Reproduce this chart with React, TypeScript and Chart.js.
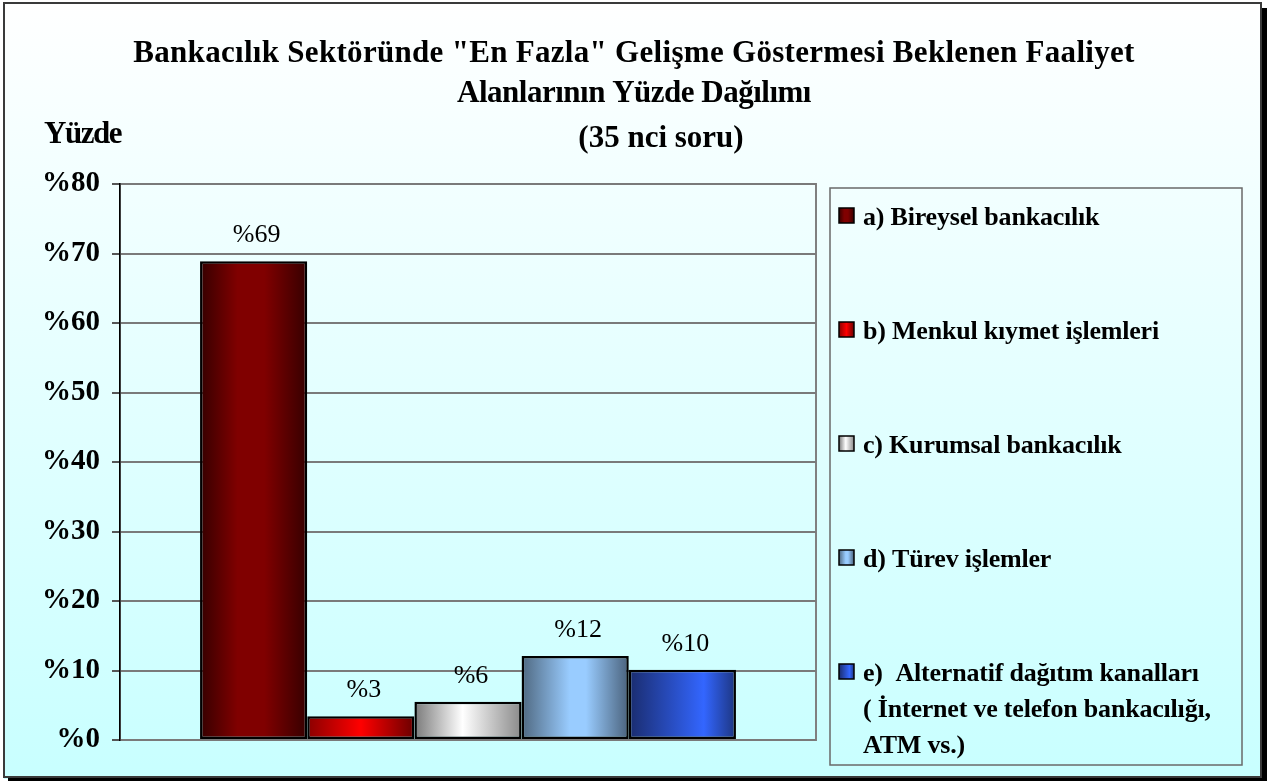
import React, { useEffect, useRef } from "react";
import { Chart, registerables } from "chart.js";

Chart.register(...registerables);

const SERIES_LABELS = [
  "a) Bireysel bankacılık",
  "b) Menkul kıymet işlemleri",
  "c) Kurumsal bankacılık",
  "d) Türev işlemler",
  "e)  Alternatif dağıtım kanalları",
];
const SERIES_EXTRA_LINES = [[], [], [], [], ["( İnternet ve telefon bankacılığı,", "ATM vs.)"]];
const VALUES = [68.9, 3.4, 5.5, 12.1, 10.1];
const VALUE_LABELS = ["%69", "%3", "%6", "%12", "%10"];
const Y_TICKS = [0, 10, 20, 30, 40, 50, 60, 70, 80];
const TITLE_LINES = [
  'Bankacılık Sektöründe "En Fazla" Gelişme Göstermesi Beklenen Faaliyet',
  "Alanlarının Yüzde Dağılımı",
];
const SUBTITLE = "(35 nci soru)";
const Y_TITLE = "Yüzde";

// gradient stops per series: [pos, color]
const GRADIENTS: [number, string][][] = [
  [[0, "#360000"], [0.35, "#800000"], [0.6, "#800000"], [1, "#360000"]],
  [[0, "#8a0000"], [0.5, "#ff0000"], [1, "#6a0000"]],
  [[0, "#7a7a7a"], [0.45, "#ffffff"], [1, "#8a8a8a"]],
  [[0, "#4f6880"], [0.45, "#99ccff"], [0.6, "#99ccff"], [1, "#4a627c"]],
  [[0, "#1a2c6e"], [0.7, "#3366ff"], [1, "#1d3580"]],
];

const FONT = "'Liberation Serif', 'Times New Roman', serif";

function makeGradient(ctx: CanvasRenderingContext2D, x0: number, x1: number, stops: [number, string][]) {
  const g = ctx.createLinearGradient(x0, 0, x1, 0);
  stops.forEach(([p, c]) => g.addColorStop(p, c));
  return g;
}

const decorPlugin = {
  id: "decor",
  beforeDraw(chart: any) {
    const ctx: CanvasRenderingContext2D = chart.ctx;
    const W = chart.width;
    const H = chart.height;
    ctx.save();
    ctx.fillStyle = "#ffffff";
    ctx.fillRect(0, 0, W, H);
    const bg = ctx.createLinearGradient(0, 0, 0, H);
    bg.addColorStop(0, "#ffffff");
    bg.addColorStop(1, "#c8ffff");
    ctx.fillStyle = bg;
    ctx.fillRect(4, 3, W - 8, H - 5);
    // shadow
    ctx.fillStyle = "#000000";
    ctx.fillRect(W - 7, 8, 6, H - 8);
    ctx.fillRect(8, H - 4, W - 9, 4);
    // frame
    ctx.strokeStyle = "#3a3a3a";
    ctx.lineWidth = 2;
    ctx.strokeRect(4, 3, W - 11, H - 7);

    // plot area border
    const a = chart.chartArea;
    ctx.strokeStyle = "#808080";
    ctx.lineWidth = 2;
    ctx.strokeRect(a.left, a.top, a.right - a.left, a.bottom - a.top);

    // titles
    ctx.fillStyle = "#000";
    ctx.textAlign = "center";
    ctx.textBaseline = "alphabetic";
    ctx.font = `bold 31px ${FONT}`;
    (ctx as any).letterSpacing = "0.3px";
    ctx.fillText(TITLE_LINES[0], 634, 62);
    (ctx as any).letterSpacing = "-0.5px";
    ctx.fillText(TITLE_LINES[1], 634, 102);
    (ctx as any).letterSpacing = "0px";
    ctx.fillText(SUBTITLE, 661, 147);
    ctx.textAlign = "left";
    (ctx as any).letterSpacing = "-1.5px";
    ctx.fillText(Y_TITLE, 44, 143);
    (ctx as any).letterSpacing = "0px";
    ctx.restore();
  },
  beforeDatasetsDraw(chart: any) {
    const ctx: CanvasRenderingContext2D = chart.ctx;
    chart.data.datasets.forEach((ds: any, i: number) => {
      const meta = chart.getDatasetMeta(i);
      meta.data.forEach((el: any) => {
        const half = el.width / 2;
        el.options.backgroundColor = makeGradient(ctx, el.x - half, el.x + half, GRADIENTS[i]);
      });
    });
  },
  afterDatasetsDraw(chart: any) {
    const ctx: CanvasRenderingContext2D = chart.ctx;
    ctx.save();
    ctx.fillStyle = "#000";
    ctx.textAlign = "center";
    ctx.textBaseline = "alphabetic";
    ctx.font = `26px ${FONT}`;
    (ctx as any).letterSpacing = "0px";
    chart.data.datasets.forEach((ds: any, i: number) => {
      const meta = chart.getDatasetMeta(i);
      meta.data.forEach((el: any) => {
        ctx.fillText(VALUE_LABELS[i], el.x + 3, el.y - 19);
      });
    });

    // legend box
    const lx = 830, ly = 188, lw = 412, lh = 577;
    ctx.strokeStyle = "#6a6a6a";
    ctx.lineWidth = 1.5;
    ctx.strokeRect(lx, ly, lw, lh);
    ctx.textAlign = "left";
    ctx.font = `bold 26px ${FONT}`;
    (ctx as any).letterSpacing = "-0.2px";
    SERIES_LABELS.forEach((label, i) => {
      const cy = 216 + 114 * i;
      ctx.fillStyle = makeGradient(ctx, 839, 854, GRADIENTS[i]);
      ctx.fillRect(839, cy - 8, 15, 15);
      ctx.strokeStyle = "#000";
      ctx.lineWidth = 1.5;
      ctx.strokeRect(839, cy - 8, 15, 15);
      ctx.fillStyle = "#000";
      const lines = [label, ...SERIES_EXTRA_LINES[i]];
      lines.forEach((t, j) => ctx.fillText(t, 863, cy + 9 + j * 36));
    });
    (ctx as any).letterSpacing = "0px";
    ctx.restore();
  },
};

export default function App() {
  const ref = useRef<HTMLCanvasElement | null>(null);
  useEffect(() => {
    document.body.style.margin = "0";
    const canvas = ref.current!;
    const chart = new Chart(canvas, {
      type: "bar",
      data: {
        labels: [""],
        datasets: SERIES_LABELS.map((label, i) => ({
          label,
          data: [VALUES[i]],
          backgroundColor: "#888",
          borderColor: "#000",
          borderWidth: 2.5,
          borderSkipped: false,
        })),
      },
      options: {
        responsive: false,
        animation: false,
        devicePixelRatio: 1,
        layout: { padding: { left: 0, top: 184, right: 452, bottom: 41 } },
        datasets: { bar: { categoryPercentage: 0.77, barPercentage: 1 } },
        plugins: {
          legend: { display: false },
          title: { display: false },
          tooltip: { enabled: false },
        },
        scales: {
          x: { display: false },
          y: {
            min: 0,
            max: 80,
            afterFit: (s: any) => {
              s.width = 120;
            },
            afterBuildTicks: (s: any) => {
              s.ticks = Y_TICKS.map((v) => ({ value: v }));
            },
            ticks: {
              color: "#000",
              padding: 12,
              font: { family: FONT, size: 29, weight: "bold" },
              callback: (v: any) => "%" + v,
            },
            grid: { color: "#7a7a7a", lineWidth: 2, tickLength: 8, tickColor: "#555" },
            border: { display: true, color: "#000", width: 1.5 },
          },
        },
      },
      plugins: [decorPlugin],
    });
    return () => chart.destroy();
  }, []);
  return (
    <div style={{ width: 1268, height: 781 }}>
      <canvas ref={ref} width={1268} height={781} style={{ display: "block", width: 1268, height: 781 }} />
    </div>
  );
}
